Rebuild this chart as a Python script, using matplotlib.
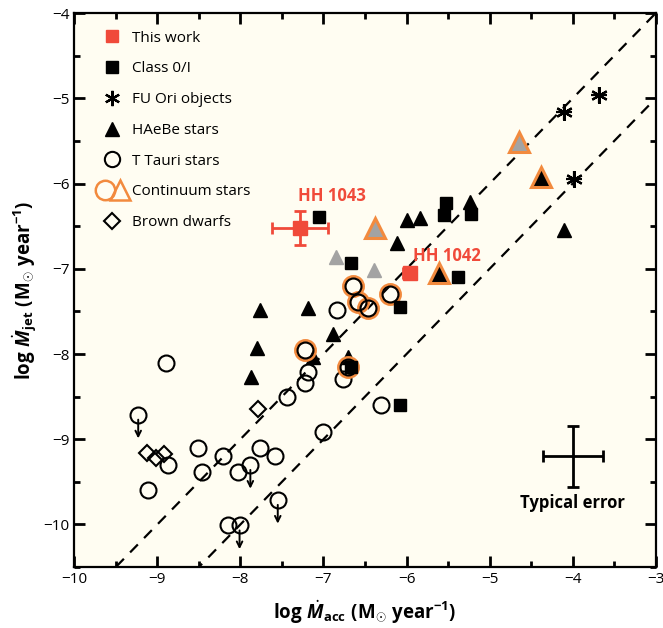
#! /usr/bin/env python3
# -*- coding: utf-8 -*-
import numpy as np
import matplotlib.pyplot as plt
from matplotlib.lines import Line2D
from matplotlib.legend_handler import HandlerTuple

plt.rcParams['font.family'] = ['Open Sans', 'DejaVu Sans']
plt.rcParams['mathtext.fontset'] = 'custom'
plt.rcParams['mathtext.rm'] = 'Open Sans:bold'
plt.rcParams['mathtext.it'] = 'Open Sans:bold:italic'
plt.rcParams['mathtext.bf'] = 'Open Sans:bold'

RED = '#F04A3A'
ORANGE = '#F28A3E'
GREY = '#A3A3A3'

# this work (HH 1043, HH 1042)
tw_names = ['HH 1043', 'HH 1042']
tw_acc = [-7.28, -5.96]
tw_jet = [-6.52, -7.05]
tw_xerr = [0.34, 0.08]
tw_yerr = [0.20, 0.05]

# Class 0/I
c0_acc = [-7.05, -6.67, -5.52, -5.55, -5.22, -5.38, -6.08, -6.67, -6.08]
c0_jet = [-6.39, -6.93, -6.23, -6.37, -6.36, -7.09, -7.45, -8.15, -8.60]

# FU Ori objects
fu_acc = [-4.10, -3.68, -3.98]
fu_jet = [-5.16, -4.96, -5.95]

# HAeBe stars
hae_acc = [-5.23, -5.99, -5.84, -6.11, -4.10, -7.76, -7.18, -7.80, -7.87,
           -6.88, -7.12, -6.70]
hae_jet = [-6.22, -6.43, -6.40, -6.70, -6.54, -7.48, -7.46, -7.93, -8.27,
           -7.77, -8.04, -8.03]
# grey triangles
gr_acc = [-6.85, -6.39]
gr_jet = [-6.86, -7.01]

# T Tauri stars
tt_acc = [-6.84, -7.18, -7.22, -6.76, -7.44, -6.31, -8.90, -9.23, -9.11,
          -8.87, -8.51, -8.46, -8.21, -8.03, -7.88, -7.76, -7.58, -7.00,
          -7.55, -8.15, -8.01]
tt_jet = [-7.48, -8.21, -8.34, -8.29, -8.50, -8.60, -8.10, -8.71, -9.59,
          -9.30, -9.10, -9.39, -9.20, -9.39, -9.30, -9.10, -9.20, -8.91,
          -9.71, -10.01, -10.01]
# upper limits among T Tauri stars
ul_acc = [-9.23, -7.88, -7.55, -8.01]
ul_jet = [-8.71, -9.30, -9.71, -10.01]

# continuum stars
cc_acc = [-6.65, -6.59, -6.46, -6.20, -7.22, -6.71]
cc_jet = [-7.20, -7.39, -7.46, -7.29, -7.95, -8.15]
ct_acc = [-4.64, -6.38, -4.38, -5.61]
ct_jet = [-5.51, -6.52, -5.92, -7.05]
ct_fill = [GREY, GREY, 'black', 'black']

# brown dwarfs
bd_acc = [-9.12, -9.01, -8.92, -7.79]
bd_jet = [-9.16, -9.22, -9.17, -8.65]

# typical error bar
err_x, err_y, err_dx, err_dy = -4.0, -9.2, 0.36, 0.36

fig = plt.figure(figsize=(6.63, 6.28), dpi=100)
ax = fig.add_axes([0.112, 0.097, 0.877, 0.882])
ax.set_facecolor('#FFFDF2')

# jet/accretion ratio lines
xl = np.array([-10.0, -3.0])
ax.plot(xl, xl - 1, ls=(0, (5, 4)), color='black', lw=1.6, zorder=1)
ax.plot(xl, xl - 2, ls=(0, (5, 4)), color='black', lw=1.6, zorder=1)

mk = dict(linestyle='none', zorder=3)
ax.plot(tt_acc, tt_jet, marker='o', ms=11.5, mfc='none', mec='black', mew=1.5, **mk)
for xa, ya in zip(ul_acc, ul_jet):
    ax.annotate('', xy=(xa, ya - 0.28), xytext=(xa, ya - 0.06),
                arrowprops=dict(arrowstyle='->', lw=1.4, color='black',
                                shrinkA=0, shrinkB=0), zorder=3)
ax.plot(bd_acc, bd_jet, marker='D', ms=8, mfc='none', mec='black', mew=1.5, **mk)
ax.plot(hae_acc, hae_jet, marker='^', ms=10, color='black', **mk)
ax.plot(gr_acc, gr_jet, marker='^', ms=10, color=GREY, **mk)
ax.plot(cc_acc, cc_jet, marker='o', ms=13.5, mfc='none', mec=ORANGE, mew=3, **mk)
ax.plot(cc_acc, cc_jet, marker='o', ms=11.5, mfc='none', mec='black', mew=1.5, **mk)
for xa, ya, fc in zip(ct_acc, ct_jet, ct_fill):
    ax.plot(xa, ya, marker='^', ms=14, mfc=fc, mec=ORANGE, mew=2.2, **mk)
ax.plot(c0_acc, c0_jet, marker='s', ms=9, color='black', **mk)
ax.plot(fu_acc, fu_jet, marker=(6, 2, 0), ms=12, mew=1.6, color='black', **mk)
ax.plot(fu_acc, fu_jet, marker='+', ms=12, mew=1.6, color='black', **mk)

ax.errorbar(tw_acc, tw_jet, xerr=tw_xerr, yerr=tw_yerr, fmt='s', ms=10,
            color=RED, ecolor=RED, elinewidth=2, capsize=4, capthick=2,
            zorder=4)
ax.text(tw_acc[0] + 0.38, tw_jet[0] + 0.27, tw_names[0], color=RED,
        fontsize=12, fontweight='bold', ha='center', va='bottom')
ax.text(tw_acc[1] + 0.45, tw_jet[1] + 0.1, tw_names[1], color=RED,
        fontsize=12, fontweight='bold', ha='center', va='bottom')

ax.errorbar([err_x], [err_y], xerr=[err_dx], yerr=[err_dy], fmt='none',
            ecolor='black', elinewidth=2, capsize=4, capthick=2)
ax.text(err_x, err_y - err_dy - 0.08, 'Typical error', fontsize=12,
        fontweight='bold', ha='center', va='top')

ax.set_xlim(-10, -3)
ax.set_ylim(-10.5, -4)
ax.set_xticks(np.arange(-10, -2.9, 1))
ax.set_xticks(np.arange(-9.5, -3, 1), minor=True)
ax.set_yticks(np.arange(-10, -3.9, 1))
ax.set_yticks(np.arange(-10.5, -4, 1), minor=True)
ax.set_xticklabels(['\u221210', '\u22129', '\u22128', '\u22127', '\u22126',
                    '\u22125', '\u22124', '\u22123'])
ax.set_yticklabels(['\u221210', '\u22129', '\u22128', '\u22127', '\u22126',
                    '\u22125', '\u22124'])
ax.tick_params(which='both', direction='in', top=True, right=True,
               labelsize=11, width=2)
ax.tick_params(which='major', length=8)
ax.tick_params(which='minor', length=4)
for sp in ax.spines.values():
    sp.set_linewidth(1.6)

ax.set_xlabel(r'$\mathrm{log}\ \dot{M}_{\mathrm{acc}}\ (\mathrm{M}_{\odot}\ \mathrm{year}^{-1})$',
              fontsize=13.5, labelpad=8)
ax.set_ylabel(r'$\mathrm{log}\ \dot{M}_{\mathrm{jet}}\ (\mathrm{M}_{\odot}\ \mathrm{year}^{-1})$',
              fontsize=13.5, labelpad=3)

handles = [
    Line2D([], [], marker='s', ms=9, color=RED, ls='none'),
    Line2D([], [], marker='s', ms=9, color='black', ls='none'),
    Line2D([], [], marker=(6, 2, 0), ms=11, mew=1.6, color='black', ls='none'),
    Line2D([], [], marker='^', ms=10, color='black', ls='none'),
    Line2D([], [], marker='o', ms=11, mfc='none', mec='black', mew=1.5, ls='none'),
    (Line2D([], [], marker='o', ms=14, mfc='none', mec=ORANGE, mew=1.8, ls='none'),
     Line2D([], [], marker='^', ms=14, mfc='none', mec=ORANGE, mew=1.8, ls='none')),
    Line2D([], [], marker='D', ms=8, mfc='none', mec='black', mew=1.5, ls='none'),
]
labels = ['This work', 'Class 0/I', 'FU Ori objects', 'HAeBe stars',
          'T Tauri stars', 'Continuum stars', 'Brown dwarfs']
ax.legend(handles, labels, loc='upper left', frameon=False, fontsize=11,
          handler_map={tuple: HandlerTuple(ndivide=None, pad=0.15)},
          labelspacing=1.03, handlelength=1.9, handletextpad=0.35,
          borderaxespad=0.2, bbox_to_anchor=(0.025, 0.985))

fig.savefig('out.png', dpi=100)
